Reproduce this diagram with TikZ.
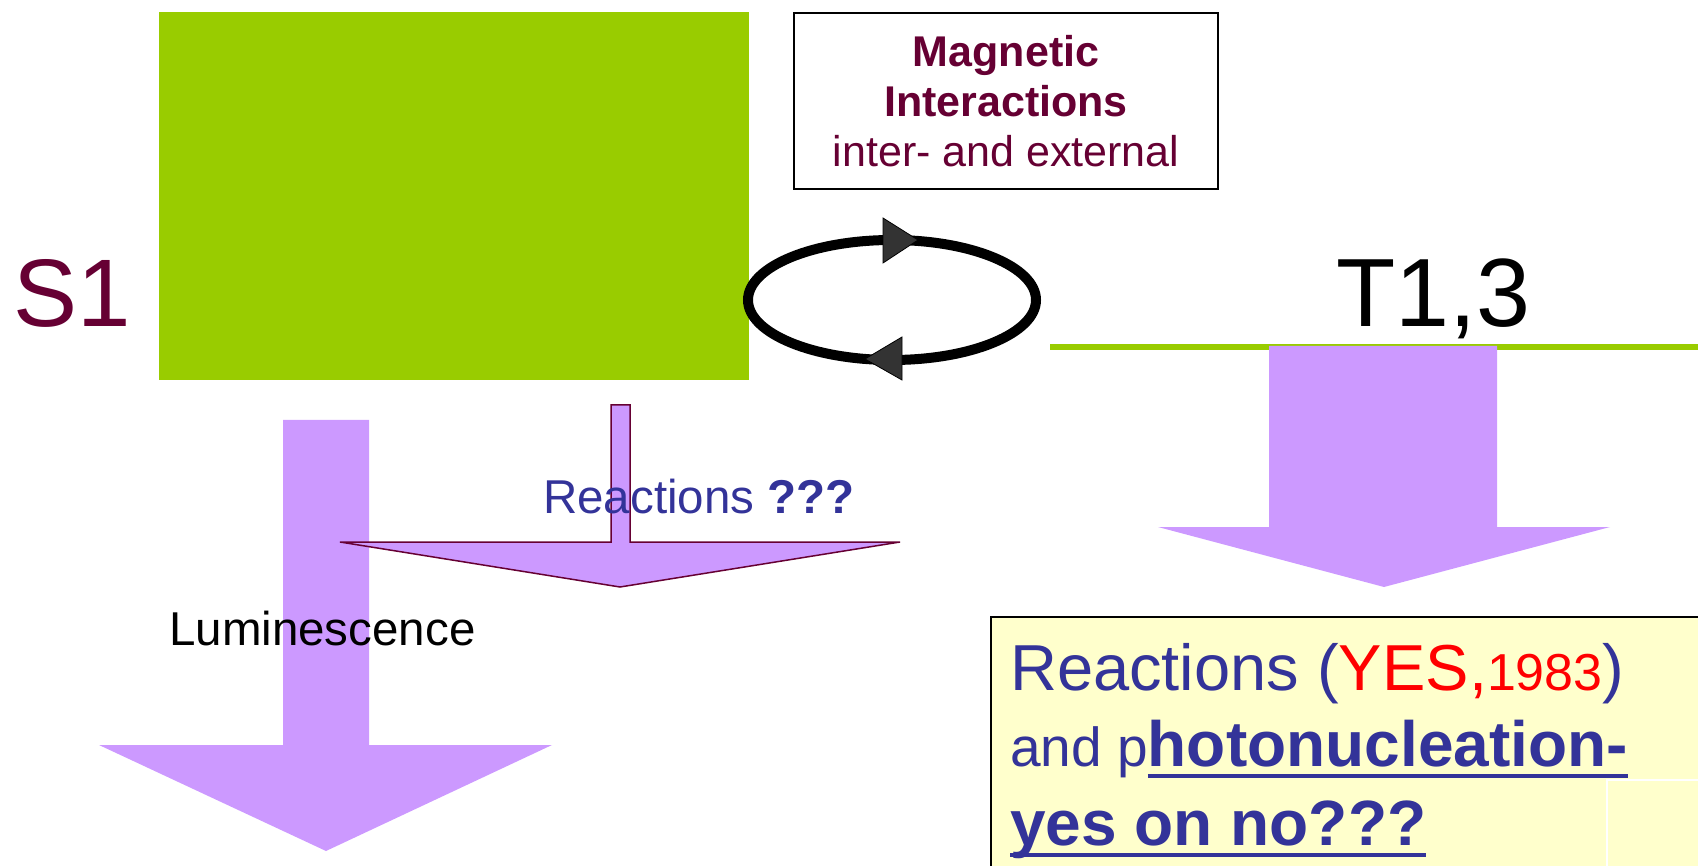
\documentclass[tikz,border=0pt]{standalone}
\usepackage{fontspec}
\setmainfont{Liberation Sans}
\usetikzlibrary{positioning}

\definecolor{levelgreen}{HTML}{99CC00}
\definecolor{lilac}{HTML}{CC99FF}
\definecolor{maroon}{HTML}{660033}
\definecolor{inkblue}{HTML}{333399}
\definecolor{paleyellow}{HTML}{FFFFCC}
\definecolor{headgray}{HTML}{333333}

% underline at a fixed depth, as in the slide
\newcommand{\slideul}[1]{\setbox0\hbox{#1}\rlap{\rule[-12pt]{\wd0}{4pt}}\box0}

\begin{document}
\begin{tikzpicture}[x=1pt, y=-1pt,
  txt/.style={inner sep=0pt, anchor=base west},
  head/.style={fill=headgray, draw=black, line width=0.8pt}]

  \clip (0,0) rectangle (1698,866);

  % Levels
  \fill[levelgreen] (159,12) rectangle (749,380);
  \draw[levelgreen, line width=6pt] (1050,347) -- (1698,347);
  \node[txt, text=maroon, font=\fontsize{96}{110}\selectfont] (s1) at (13,327) {S1};
  \node[txt, font=\fontsize{97}{110}\selectfont] (t13) at (1336,327) {T1,3};

  % Magnetic interactions
  \node[draw, line width=2pt, minimum width=424pt, minimum height=176pt, inner sep=0pt,
        align=center, text=maroon, font=\fontsize{43}{50}\selectfont] (magnetic) at (1006,101)
        {\textbf{Magnetic}\\\textbf{Interactions}\\inter- and external};
  \draw[line width=10pt] (892,300) ellipse [x radius=144, y radius=60];
  \draw[head] (883,218) -- (918,240) -- (883,263) -- cycle;
  \draw[head] (902,337) -- (865,359) -- (902,380) -- cycle;

  % Arrows
  \fill[lilac] (283,420) -- (369,420) -- (369,745) -- (552,745) -- (326,851)
    -- (99,745) -- (283,745) -- cycle;
  \filldraw[fill=lilac, draw=maroon, line width=1.5pt] (611,405) -- (630,405) -- (630,542)
    -- (900,542) -- (620,587) -- (340,542) -- (611,542) -- cycle;
  \fill[lilac] (1269,346) -- (1497,346) -- (1497,527) -- (1610,527) -- (1384,587)
    -- (1158,527) -- (1269,527) -- cycle;

  % Labels
  \node[txt, font=\fontsize{47.5}{56}\selectfont] (lumi) at (169,645) {Luminescence};
  \node[txt, text=inkblue, font=\fontsize{47.5}{56}\selectfont] (reacq) at (543,513) {Reactions \textbf{???}};

  % Result box
  \filldraw[fill=paleyellow, draw=black, line width=1.5pt] (991,617) rectangle (1710,880);
  \draw[white, line width=1.5pt] (1607,870) -- (1607,780) -- (1710,780);
  \node[txt, text=inkblue, font=\fontsize{65}{77}\selectfont] (res1) at (1010,690)
    {Reactions (\textcolor{red}{YES,\fontsize{52}{60}\selectfont 1983})};
  \node[txt, text=inkblue] (res2) at (1010,766)
    {\fontsize{55}{60}\selectfont and p\fontsize{64}{77}\selectfont\slideul{\textbf{hotonucleation-}}};
  \node[txt, text=inkblue, font=\fontsize{64}{77}\selectfont] (res3) at (1010,845)
    {\slideul{\textbf{yes on no???}}};
\end{tikzpicture}
\end{document}
